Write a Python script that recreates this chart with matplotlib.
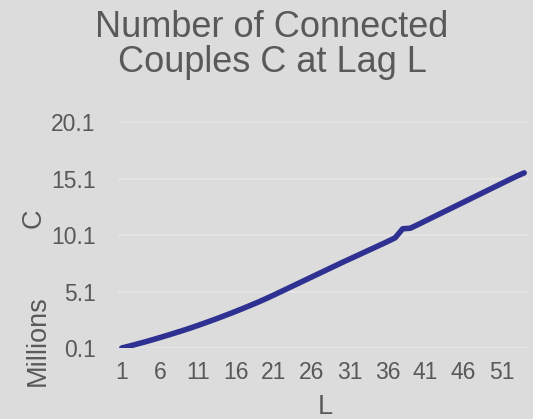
import matplotlib as mpl
mpl.use('Agg')
import matplotlib.pyplot as plt

BG = '#DCDCDC'
LINE = '#2E3192'
TXT = '#595959'

# lag L and connected couples C (millions)
LAG = list(range(1, 55))
COUPLES = [0.10, 0.27, 0.45, 0.63, 0.82, 1.02, 1.22, 1.43, 1.64, 1.86,
           2.09, 2.33, 2.57, 2.82, 3.08, 3.34, 3.61, 3.89, 4.17, 4.47,
           4.78, 5.10, 5.42, 5.74, 6.06, 6.38, 6.70, 7.02, 7.34, 7.66,
           7.97, 8.28, 8.59, 8.90, 9.21, 9.52, 9.85, 10.65, 10.70, 11.02,
           11.35, 11.68, 12.01, 12.34, 12.67, 13.00, 13.33, 13.66, 13.99, 14.32,
           14.65, 14.98, 15.30, 15.60]
YTICKS = [0.1, 5.1, 10.1, 15.1, 20.1]
XTICKS = list(range(1, 55, 5))

plt.rcParams['font.family'] = ['Liberation Sans', 'DejaVu Sans']

W, H = 533, 419
fig = plt.figure(figsize=(W / 100, H / 100), dpi=100)
fig.patch.set_facecolor(BG)
ax = fig.add_axes([118 / W, 1 - 348 / H, 410 / W, 226 / H])
ax.set_facecolor(BG)

ax.plot(LAG, COUPLES, color=LINE, lw=4, solid_capstyle='round', zorder=3)

ax.set_xlim(0.5, 54.5)
ax.set_ylim(0.1, 20.1)
ax.set_yticks(YTICKS)
ax.set_yticklabels(['%.1f' % v for v in YTICKS])
ax.set_xticks(XTICKS)
ax.set_xticklabels([str(v) for v in XTICKS])
ax.tick_params(length=0, labelsize=16.5, colors=TXT)
ax.tick_params(axis='y', pad=16)
ax.tick_params(axis='x', pad=9)
ax.yaxis.grid(color='#E6E6E6', lw=1.2)
ax.set_axisbelow(True)
for s in ax.spines.values():
    s.set_visible(False)

# axis titles placed like the excel layout
fig.text(325 / W, 1 - 407 / H, 'L', fontsize=19.5, color=TXT,
         ha='center', va='center')
fig.text(34 / W, 1 - 218 / H, 'C', rotation=90, fontsize=19.5,
         color=TXT, ha='center', va='center')
fig.text(38 / W, 1 - 341 / H, 'Millions', rotation=90, fontsize=19.5,
         color=TXT, ha='center', va='center')

fig.text(272 / W, 1 - 45 / H, 'Number of Connected\nCouples C at Lag L',
         fontsize=26, color=TXT, ha='center', va='center', linespacing=1.03)

plt.savefig('out.png', dpi=100, facecolor=BG)
plt.close(fig)
